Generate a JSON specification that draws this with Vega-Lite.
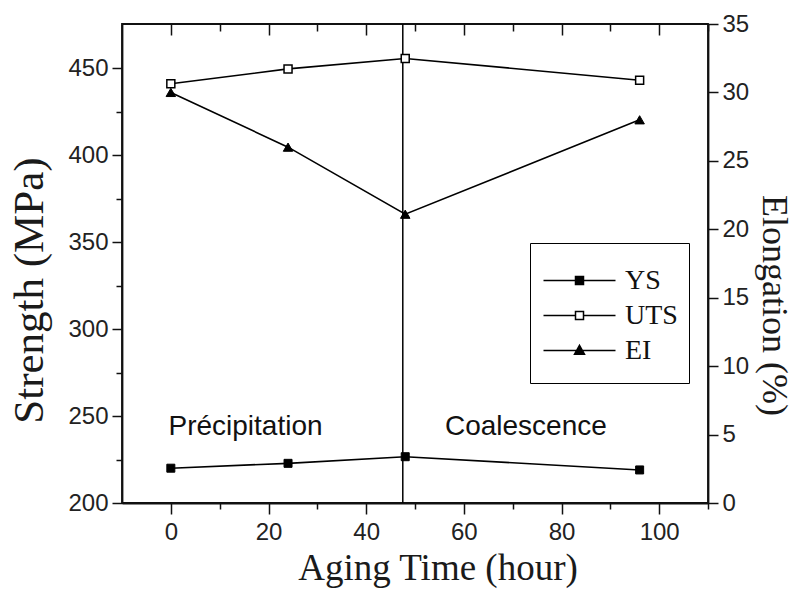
{
  "$schema": "https://vega.github.io/schema/vega-lite/v6.json",
  "width": 586,
  "height": 479,
  "autosize": {"type": "none"},
  "padding": {"left": 122, "top": 24, "right": 92, "bottom": 86},
  "background": "white",
  "config": {
    "view": {"stroke": "#111111", "strokeWidth": 1.8},
    "axis": {
      "grid": false,
      "domainColor": "#111111",
      "domainWidth": 1.8,
      "tickColor": "#111111",
      "tickWidth": 1.5,
      "labelFont": "Liberation Sans",
      "labelFontSize": 24,
      "labelColor": "#222222",
      "labelOverlap": false,
      "labelFlush": false,
      "titleFont": "Liberation Serif",
      "titleFontWeight": "normal",
      "titleColor": "#1a1a1a"
    }
  },
  "datasets": {
    "meas": [
      {"time": 0, "series": "YS", "value": 220},
      {"time": 24, "series": "YS", "value": 222.8},
      {"time": 48, "series": "YS", "value": 226.6},
      {"time": 96, "series": "YS", "value": 219},
      {"time": 0, "series": "UTS", "value": 441},
      {"time": 24, "series": "UTS", "value": 449.5},
      {"time": 48, "series": "UTS", "value": 455.5},
      {"time": 96, "series": "UTS", "value": 443},
      {"time": 0, "series": "EI", "value": 30},
      {"time": 24, "series": "EI", "value": 26},
      {"time": 48, "series": "EI", "value": 21.1},
      {"time": 96, "series": "EI", "value": 28}
    ],
    "notes": [
      {"label": "Précipitation", "time": 15.3, "value": 239},
      {"label": "Coalescence", "time": 72.7, "value": 239}
    ],
    "divider": [{"time": 47.5}],
    "keys": [{"series": "YS"}, {"series": "UTS"}, {"series": "EI"}]
  },
  "layer": [
    {
      "layer": [
        {
          "data": {"name": "divider"},
          "mark": {"type": "rule", "color": "black", "strokeWidth": 1.5},
          "encoding": {
            "x": {
              "field": "time",
              "type": "quantitative",
              "scale": {"domain": [-10, 110], "nice": false, "zero": false},
              "axis": {
                "orient": "bottom",
                "values": [0, 10, 20, 30, 40, 50, 60, 70, 80, 90, 100, 110],
                "labelExpr": "datum.value % 20 === 0 && datum.value <= 100 ? datum.label : ''",
                "tickSize": {"condition": {"test": "datum.value % 20 === 0", "value": 11}, "value": 6},
                "labelPadding": 6,
                "title": "Aging Time (hour)",
                "titleFontSize": 37,
                "titleX": 315.5,
                "titleY": 76,
                "titleAlign": "center",
                "titleBaseline": "alphabetic"
              }
            }
          }
        },
        {
          "data": {"name": "meas"},
          "transform": [{"filter": "datum.series !== 'EI'"}],
          "mark": {"type": "line", "color": "black", "strokeWidth": 1.6},
          "encoding": {
            "x": {"field": "time", "type": "quantitative"},
            "y": {
              "field": "value",
              "type": "quantitative",
              "scale": {"domain": [200, 475.3], "nice": false, "zero": false},
              "axis": {
                "orient": "left",
                "values": [200, 225, 250, 275, 300, 325, 350, 375, 400, 425, 450],
                "labelExpr": "datum.value % 50 === 0 ? datum.label : ''",
                "tickSize": {"condition": {"test": "datum.value % 50 === 0", "value": 10}, "value": 6},
                "labelPadding": 4,
                "title": "Strength (MPa)",
                "titleFontSize": 43,
                "titleAngle": 270,
                "titleX": -80,
                "titleY": 266,
                "titleAlign": "center",
                "titleBaseline": "alphabetic"
              }
            },
            "detail": {"field": "series", "type": "nominal"}
          }
        },
        {
          "data": {"name": "meas"},
          "transform": [{"filter": "datum.series === 'YS'"}],
          "mark": {"type": "point", "shape": "square", "filled": true, "fill": "black", "stroke": "black", "strokeWidth": 1, "size": 64, "opacity": 1},
          "encoding": {
            "x": {"field": "time", "type": "quantitative"},
            "y": {"field": "value", "type": "quantitative"}
          }
        },
        {
          "data": {"name": "meas"},
          "transform": [{"filter": "datum.series === 'UTS'"}],
          "mark": {"type": "point", "shape": "square", "filled": true, "fill": "white", "stroke": "black", "strokeWidth": 1.5, "size": 64, "opacity": 1},
          "encoding": {
            "x": {"field": "time", "type": "quantitative"},
            "y": {"field": "value", "type": "quantitative"}
          }
        },
        {
          "data": {"name": "notes"},
          "mark": {"type": "text", "font": "Liberation Sans", "fontSize": 28, "align": "center", "baseline": "alphabetic", "color": "#111111"},
          "encoding": {
            "x": {"field": "time", "type": "quantitative"},
            "y": {"field": "value", "type": "quantitative"},
            "text": {"field": "label", "type": "nominal"}
          }
        },
        {
          "data": {"name": "keys"},
          "mark": {"type": "point", "filled": false, "strokeWidth": 1.5, "size": 0},
          "encoding": {
            "fill": {
              "field": "series",
              "type": "nominal",
              "scale": {"domain": ["YS", "UTS", "EI"], "range": ["black", "white", "black"]}
            },
            "stroke": {
              "field": "series",
              "type": "nominal",
              "scale": {"domain": ["YS", "UTS", "EI"], "range": ["black", "black", "black"]}
            },
            "shape": {
              "field": "series",
              "type": "nominal",
              "scale": {
                "domain": ["YS", "UTS", "EI"],
                "range": [
                  "M0,-4.5ZM0,4.5ZM-2.875,0H15.125M5.125,-1H7.125V1H5.125Z",
                  "M0,-4.5ZM0,4.5ZM-2.875,0H5.125M7.125,0H15.125M5.125,-1H7.125V1H5.125Z",
                  "M0,-4.5ZM0,4.5ZM-2.875,0H15.125M6.125,-1.3L7.375,0.95H4.875Z"
                ]
              },
              "legend": {
                "orient": "none",
                "legendX": 408,
                "legendY": 219,
                "title": " ",
                "titleFontSize": 2,
                "titlePadding": 10.5,
                "strokeColor": "black",
                "fillColor": "white",
                "padding": 11,
                "labelFont": "Liberation Serif",
                "labelFontSize": 28,
                "labelColor": "#111111",
                "labelOffset": 56,
                "rowPadding": -8,
                "symbolSize": 64,
                "symbolStrokeWidth": 1.5,
                "symbolOpacity": 1
              }
            }
          }
        }
      ]
    },
    {
      "data": {"name": "meas"},
      "transform": [{"filter": "datum.series === 'EI'"}],
      "layer": [
        {
          "mark": {"type": "line", "color": "black", "strokeWidth": 1.6},
          "encoding": {
            "x": {
              "field": "time",
              "type": "quantitative",
              "scale": {"domain": [-10, 110], "nice": false, "zero": false},
              "axis": {
                "orient": "top",
                "values": [0, 20, 40, 60, 80, 100],
                "labels": false,
                "domain": false,
                "ticks": true,
                "tickSize": 11,
                "offset": -11,
                "title": null
              }
            },
            "y": {
              "field": "value",
              "type": "quantitative",
              "scale": {"domain": [0, 35], "nice": false, "zero": false},
              "axis": {
                "orient": "right",
                "values": [0, 2.5, 5, 7.5, 10, 12.5, 15, 17.5, 20, 22.5, 25, 27.5, 30, 32.5, 35],
                "labelExpr": "datum.value % 5 === 0 ? datum.label : ''",
                "tickSize": {"condition": {"test": "datum.value % 5 === 0", "value": 10}, "value": 6},
                "labelPadding": 4,
                "title": "Elongation (%)",
                "titleFontSize": 36,
                "titleAngle": 90,
                "titleX": 54,
                "titleY": 281,
                "titleAlign": "center",
                "titleBaseline": "alphabetic"
              }
            }
          }
        },
        {
          "mark": {"type": "point", "shape": "triangle-up", "filled": true, "fill": "black", "stroke": "black", "strokeWidth": 1, "size": 90, "opacity": 1},
          "encoding": {
            "x": {
              "field": "time",
              "type": "quantitative",
              "axis": {
                "orient": "top",
                "values": [10, 30, 50, 70, 90, 110],
                "labels": false,
                "domain": false,
                "ticks": true,
                "tickSize": 7,
                "offset": -7,
                "title": null
              }
            },
            "y": {"field": "value", "type": "quantitative"}
          }
        }
      ],
      "resolve": {"axis": {"x": "independent"}}
    }
  ],
  "resolve": {"scale": {"y": "independent", "x": "independent"}, "axis": {"x": "independent"}}
}
